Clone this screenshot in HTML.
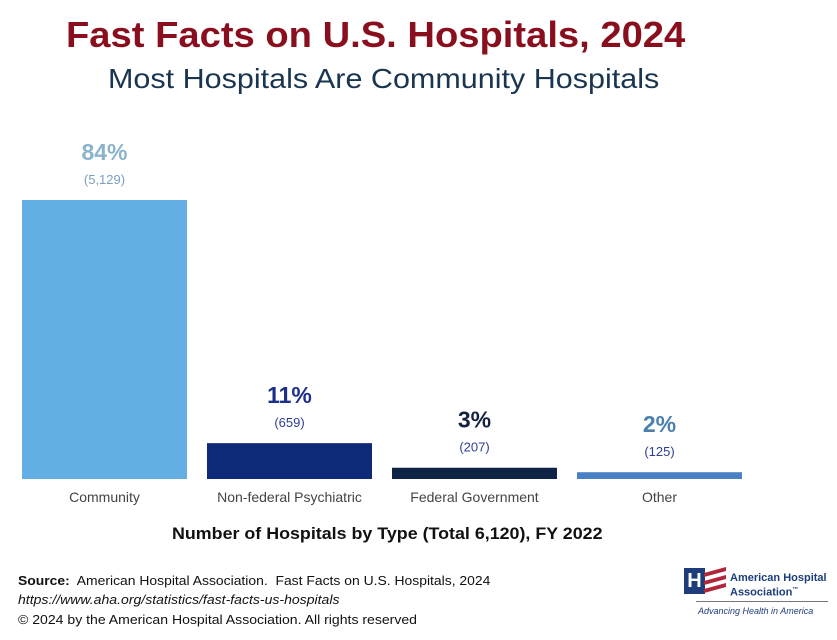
<!DOCTYPE html>
<html><head><meta charset="utf-8"><style>
body{margin:0;width:837px;height:640px;background:#fff;font-family:"Liberation Sans",sans-serif;overflow:hidden;position:relative}
.t{position:absolute;white-space:nowrap;transform-origin:0 0}
</style></head><body>
<div class="t" style="left:66px;top:14px;font-size:36px;font-weight:bold;color:#8a0f1e;transform:scaleX(1.06)">Fast Facts on U.S. Hospitals, 2024</div>
<div class="t" style="left:108px;top:63px;font-size:28px;color:#1a3550;transform:scaleX(1.09)">Most Hospitals Are Community Hospitals</div>
<svg id="chart" width="837" height="640" style="position:absolute;left:0;top:0"></svg>
<div class="t" style="left:172px;top:524px;font-size:17px;font-weight:bold;color:#111;transform:scaleX(1.05)">Number of Hospitals by Type (Total 6,120), FY 2022</div>
<div class="t" style="left:18px;top:573px;font-size:13px;color:#111;transform:scaleX(1.07)"><b>Source:</b>&nbsp; American Hospital Association.&nbsp; Fast Facts on U.S. Hospitals, 2024</div>
<div class="t" style="left:18px;top:592px;font-size:13px;font-style:italic;color:#111;transform:scaleX(1.08)">https://www.aha.org/statistics/fast-facts-us-hospitals</div>
<div class="t" style="left:18px;top:612px;font-size:13px;color:#111;transform:scaleX(1.08)">© 2024 by the American Hospital Association. All rights reserved</div>
<div style="position:absolute;left:684px;top:566px;width:145px;height:58px">
<div style="position:absolute;left:0;top:2px;width:17px;height:22px;border:2px solid #1d3d7a;background:#1d3d7a;color:#fff;font-weight:bold;font-size:20px;line-height:22px;text-align:center">H</div>
<div style="position:absolute;left:20px;top:4px;width:22px;height:4px;background:#b0263a;transform:skewY(-15deg)"></div>
<div style="position:absolute;left:20px;top:12px;width:22px;height:4px;background:#b0263a;transform:skewY(-15deg)"></div>
<div style="position:absolute;left:20px;top:20px;width:22px;height:4px;background:#b0263a;transform:skewY(-15deg)"></div>
<div class="t" style="left:46px;top:6px;font-size:11px;font-weight:bold;color:#1d3d7a;line-height:12px">American Hospital<br>Association<sup style="font-size:6px">™</sup></div>
<div style="position:absolute;left:12px;top:35px;width:132px;height:1px;background:#777"></div>
<div class="t" style="left:14px;top:40px;font-size:9px;font-style:italic;color:#1d3d7a">Advancing Health in America</div>
</div>
<script>
const categories=["Community","Non-federal Psychiatric","Federal Government","Other"];
const counts=[5129,659,207,125];
const pctLabels=["84%","11%","3%","2%"];
const countLabels=["(5,129)","(659)","(207)","(125)"];
const barColors=["#63aee2","#0c2a78","#0d2447","#4a80c4"];
const pctColors=["#8bb3cc","#1c2f8a","#13233f","#4a7fae"];
const svg=document.getElementById('chart');
const NS="http://www.w3.org/2000/svg";
const base=479, plotH=279, maxV=5129, x0=22, bw=165, step=185;
function y(v){return base-v/maxV*plotH;}
function xb(i){return x0+i*step;}
categories.forEach((c,i)=>{
 const r=document.createElementNS(NS,'rect');
 
 
 r.setAttribute('x',xb(i));r.setAttribute('y',y(counts[i]));r.setAttribute('width',bw);r.setAttribute('height',base-y(counts[i]));r.setAttribute('fill',barColors[i]);
 svg.appendChild(r);
 const cx=xb(i)+bw/2;
 const p=document.createElementNS(NS,'text');
 
 
 p.setAttribute('x',cx);p.setAttribute('y',y(counts[i])-40);p.setAttribute('text-anchor','middle');p.setAttribute('font-size','23');p.setAttribute('font-weight','bold');p.setAttribute('fill',pctColors[i]);p.setAttribute('font-family','Liberation Sans');
 p.textContent=pctLabels[i];svg.appendChild(p);
 const n=document.createElementNS(NS,'text');
 
 
 n.setAttribute('x',cx);n.setAttribute('y',y(counts[i])-16);n.setAttribute('text-anchor','middle');n.setAttribute('font-size','13');n.setAttribute('fill',i==0?'#7c9fc0':'#2e3f92');n.setAttribute('font-family','Liberation Sans');
 n.textContent=countLabels[i];svg.appendChild(n);
 const l=document.createElementNS(NS,'text');
 
 
 l.setAttribute('x',cx);l.setAttribute('y',base+23);l.setAttribute('text-anchor','middle');l.setAttribute('font-size','14');l.setAttribute('fill','#444');l.setAttribute('font-family','Liberation Sans');
 l.textContent=c;svg.appendChild(l);
});
</script>
</body></html>
